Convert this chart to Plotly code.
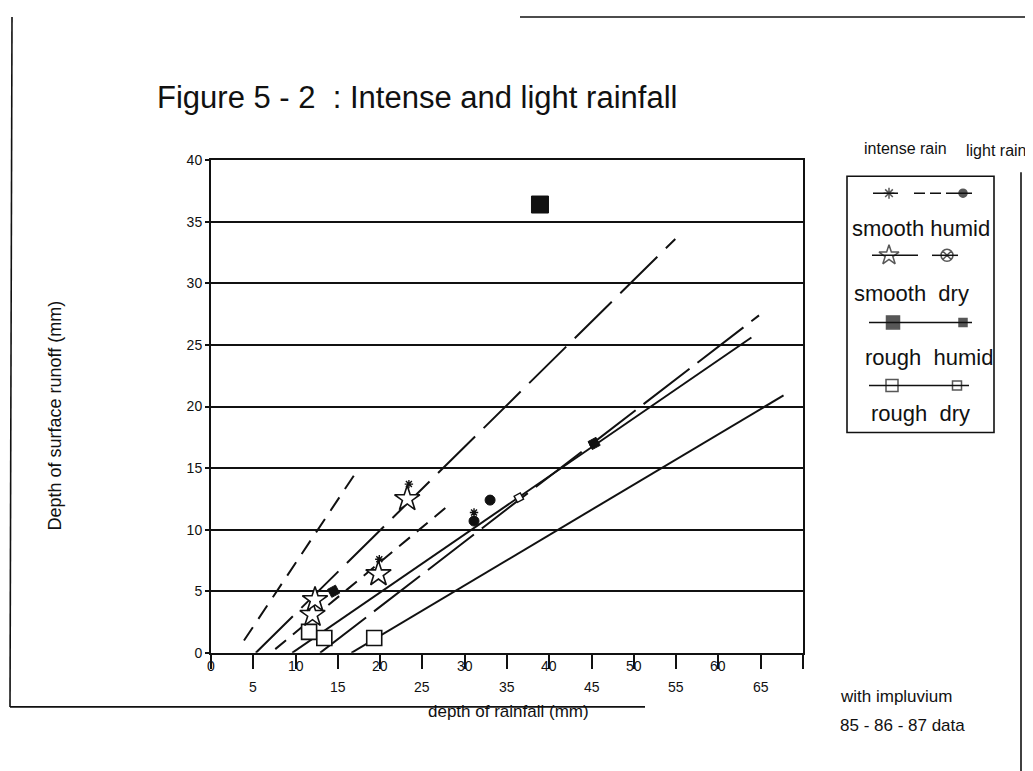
import plotly.graph_objects as go

# Measured page placement of the figure in the photographed window:
# window_x = 8 + fig_x ; window_y = 16 + 0.978 * fig_y
OX, OY, SY = 8, 16, 0.978
W, H = 1025, 772

# ---------------- data ----------------
# x : depth of rainfall (mm), y : depth of surface runoff (mm)
smooth_humid_intense_x = [19.9, 23.4, 31.1]      # small asterisks
smooth_humid_intense_y = [7.6, 13.7, 11.4]
smooth_humid_light_x = [31.1, 33.0]              # filled circles
smooth_humid_light_y = [10.7, 12.4]
smooth_dry_intense_x = [12.0, 12.3, 19.8, 23.2]  # open stars
smooth_dry_intense_y = [3.1, 4.3, 6.4, 12.5]
rough_humid_intense_x = [38.9]                   # large filled square
rough_humid_intense_y = [36.4]
rough_humid_light_x = [14.5, 45.3]               # small filled squares
rough_humid_light_y = [5.0, 17.0]
rough_dry_intense_x = [11.6, 13.4, 19.3]         # large open squares
rough_dry_intense_y = [1.7, 1.2, 1.2]
rough_dry_light_x = [36.4]                       # small open square
rough_dry_light_y = [12.6]

# fitted regression lines (end points)
fit_a_x = [3.9, 17.0]
fit_a_y = [1.0, 14.5]
fit_b_x = [5.3, 54.9]
fit_b_y = [0.0, 33.6]
fit_c_x = [7.6, 28.3]
fit_c_y = [0.3, 12.1]
fit_d_x = [9.6, 63.9]
fit_d_y = [0.0, 25.6]
fit_e_x = [16.6, 67.7]
fit_e_y = [0.0, 20.9]
fit_f_x = [12.9, 64.8]
fit_f_y = [0.0, 27.4]

x_labels_upper = [0, 10, 20, 30, 40, 50, 60]
x_labels_lower = [5, 15, 25, 35, 45, 55, 65]
y_ticks = [0, 5, 10, 15, 20, 25, 30, 35, 40]

# ---------------- layout geometry (window pixels) ----------------
PX0, PX1 = 211, 803   # x = 0 .. 70
PY0, PY1 = 160, 652   # y = 40 .. 0
FONT = "Liberation Sans, Arial, sans-serif"
INK = "#111111"

def fy(wy):
    return (wy - OY) / SY

fig = go.Figure()

def line(x, y, dash, width=2.0):
    fig.add_trace(go.Scatter(x=x, y=y, mode="lines",
                             line=dict(color=INK, width=width, dash=dash),
                             hoverinfo="skip", showlegend=False))

line(fit_a_x, fit_a_y, "16px,10px")
line(fit_b_x, fit_b_y, "52px,12px")
line(fit_c_x, fit_c_y, "14px,9px")
line(fit_d_x, fit_d_y, "solid")
line(fit_e_x, fit_e_y, "solid")
line(fit_f_x, fit_f_y, "58px,10px")

def pts(x, y, symbol, size, fill, lw=1.5, angle=0):
    fig.add_trace(go.Scatter(x=x, y=y, mode="markers",
                             marker=dict(symbol=symbol, size=size, color=fill,
                                         angle=angle,
                                         line=dict(color=INK, width=lw)),
                             hoverinfo="skip", showlegend=False))

pts(rough_dry_intense_x, rough_dry_intense_y, "square", 15, "white", 1.6)
pts(smooth_dry_intense_x, smooth_dry_intense_y, "star", 19, "white", 1.6)
pts(smooth_humid_intense_x, smooth_humid_intense_y, "asterisk-open", 7, INK, 1.4)
pts(smooth_humid_light_x, smooth_humid_light_y, "circle", 10, INK, 1)
pts(rough_humid_intense_x, rough_humid_intense_y, "square", 17, INK, 1)
pts(rough_humid_light_x, rough_humid_light_y, "square", 9, INK, 1, angle=-28)
pts(rough_dry_light_x, rough_dry_light_y, "square", 7, "white", 1.4, angle=-28)

# ---------------- overlay pixel-space subplot for decorations ----------------
legend_rows = [
    dict(y=193, segs=[(873, 898), (914, 925), (930, 941), (946, 972)],
         marks=[(889, "asterisk-open", 9, INK), (963, "circle", 8, INK)]),
    dict(y=255, segs=[(872, 918), (932, 958)],
         marks=[(889, "star", 15, "white"), (947, "circle-x", 12, "white")]),
    dict(y=322, segs=[(869, 972)],
         marks=[(893, "square", 13, INK), (963, "square", 8, INK)]),
    dict(y=385, segs=[(869, 969)],
         marks=[(892, "square", 12, "white"), (957, "square", 9, "white")]),
]
legend_texts = [
    (921, 228, "smooth humid"),
    (911, 293, "smooth  dry"),
    (929, 357, "rough  humid"),
    (920, 413, "rough  dry"),
]

shapes = []
for r in legend_rows:
    for a, b in r["segs"]:
        shapes.append(dict(type="line", xref="x2", yref="y2", x0=a, x1=b,
                           y0=r["y"], y1=r["y"], line=dict(color=INK, width=1.5)))
    fig.add_trace(go.Scatter(
        x=[m[0] for m in r["marks"]], y=[r["y"]] * len(r["marks"]),
        xaxis="x2", yaxis="y2", mode="markers", hoverinfo="skip", showlegend=False,
        marker=dict(symbol=[m[1] for m in r["marks"]], size=[m[2] for m in r["marks"]],
                    color=[m[3] for m in r["marks"]], line=dict(color=INK, width=1.5))))

# legend box
shapes.append(dict(type="rect", xref="x2", yref="y2", x0=847, x1=994, y0=176, y1=432,
                   line=dict(color=INK, width=1.6)))
# page frame of the scan
for (x0, y0, x1, y1) in [(12, 17, 10, 706), (10, 706, 645, 706),
                         (1021, 172, 1021, 771), (520, 17, 1033, 17)]:
    shapes.append(dict(type="line", xref="x2", yref="y2", x0=x0, y0=y0, x1=x1, y1=y1,
                       line=dict(color=INK, width=1.6)))

annotations = []
def txt(x, y, s, size, xref="x2", yref="y2", xanchor="center", angle=0):
    annotations.append(dict(x=x, y=y, xref=xref, yref=yref, text=s, showarrow=False,
                            xanchor=xanchor, yanchor="middle", textangle=angle,
                            font=dict(family=FONT, size=size, color=INK)))

txt(155, 97, "Figure 5 - 2  : Intense and light rainfall", 31, xanchor="left")
txt(905, 148, "intense rain", 16)
txt(996, 150, "light rain", 16)
for x, y, s in legend_texts:
    txt(x, y, s, 22)
txt(55, 415, "Depth of surface runoff (mm)", 18, angle=-90)
txt(508, 711, "depth of rainfall (mm)", 17)
txt(896, 696, "with impluvium", 17)
txt(902, 725, "85 - 86 - 87 data", 17)
for v in x_labels_upper:
    txt(v, 665, str(v), 14, xref="x")
for v in x_labels_lower:
    txt(v, 686, str(v), 14, xref="x")

fig.update_layout(
    width=W, height=H, margin=dict(l=0, r=0, t=0, b=0),
    paper_bgcolor="white", plot_bgcolor="rgba(0,0,0,0)",
    font=dict(family=FONT, color=INK),
    xaxis=dict(domain=[(PX0 - OX) / W, (PX1 - OX) / W], range=[0, 70], anchor="y",
               tickvals=list(range(0, 71, 5)), showticklabels=False,
               ticks="outside", ticklen=14, tickwidth=2, tickcolor=INK,
               showline=True, linecolor=INK, linewidth=2, mirror=True,
               showgrid=False, zeroline=False),
    yaxis=dict(domain=[1 - fy(PY1) / H, 1 - fy(PY0) / H], range=[0, 40],
               anchor="x", tickvals=y_ticks, ticks="outside", ticklen=4, tickwidth=1.5,
               tickcolor=INK, tickfont=dict(family=FONT, size=14, color=INK),
               showline=True, linecolor=INK, linewidth=2, mirror=True,
               showgrid=True, gridcolor=INK, gridwidth=1.5, zeroline=False),
    xaxis2=dict(domain=[0, 1], range=[OX, OX + W], anchor="y2", visible=False,
                fixedrange=True),
    yaxis2=dict(domain=[0, 1], range=[OY + SY * H, OY], anchor="x2", visible=False,
                fixedrange=True),
    shapes=shapes, annotations=annotations, showlegend=False,
)

fig.write_html("out.html")
